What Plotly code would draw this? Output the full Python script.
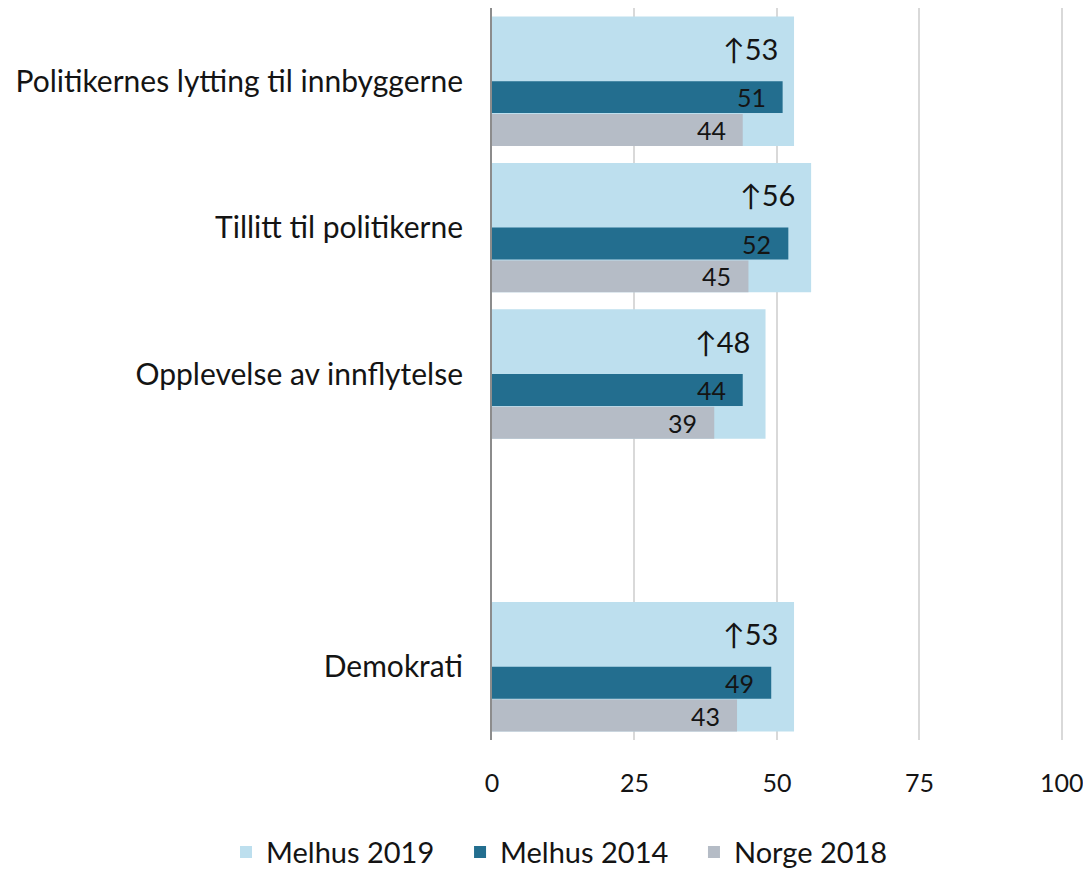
import plotly.graph_objects as go

categories = ["Politikernes lytting til innbyggerne", "Tillitt til politikerne",
              "Opplevelse av innflytelse", "", "Demokrati"]
melhus_2019 = [53, 56, 48, None, 53]
melhus_2014 = [51, 52, 44, None, 49]
norge_2018 = [44, 45, 39, None, 43]
series_names = ["Melhus 2019", "Melhus 2014", "Norge 2018"]
x_ticks = [0, 25, 50, 75, 100]

n = len(categories)
pos = [n - 1 - i for i in range(n)]

FONT = "Lato"
TXT = "#141414"
C_LIGHT = "#BDDFEE"
C_DARK = "#236E8F"
C_GRAY = "#B5BCC6"

fig = go.Figure()
fig.add_trace(go.Bar(y=pos, x=melhus_2019, orientation="h", name=series_names[0],
                     marker=dict(color=C_LIGHT, line=dict(width=0)),
                     width=0.884, offset=-0.442, legend="legend", showlegend=True))
fig.add_trace(go.Bar(y=pos, x=melhus_2014, orientation="h", name=series_names[1],
                     marker=dict(color=C_DARK, line=dict(width=0)),
                     width=0.218, offset=-0.218, legend="legend2", showlegend=True))
fig.add_trace(go.Bar(y=pos, x=norge_2018, orientation="h", name=series_names[2],
                     marker=dict(color=C_GRAY, line=dict(width=0)),
                     width=0.218, offset=-0.442, legend="legend3", showlegend=True))

annotations = []
for p, a, b, c in zip(pos, melhus_2019, melhus_2014, norge_2018):
    if a is None:
        continue
    annotations.append(dict(x=a, y=p + 0.225, text=f"↑{a}", showarrow=False,
                            xanchor="right", yanchor="middle", xshift=-14,
                            font=dict(family=FONT, size=29, color=TXT)))
    annotations.append(dict(x=b, y=p - 0.109, text=str(b), showarrow=False,
                            xanchor="right", yanchor="middle", xshift=-15,
                            font=dict(family=FONT, size=25, color=TXT)))
    annotations.append(dict(x=c, y=p - 0.333, text=str(c), showarrow=False,
                            xanchor="right", yanchor="middle", xshift=-15,
                            font=dict(family=FONT, size=25, color=TXT)))

tickvals = [p for p, cat in zip(pos, categories) if cat]
ticktext = [cat for cat in categories if cat]


def legend_box(xfrac):
    return dict(orientation="h", xref="container", yref="container",
                x=xfrac, xanchor="left", y=0.0197, yanchor="middle",
                font=dict(family=FONT, size=29, color=TXT),
                itemwidth=30, bgcolor="rgba(0,0,0,0)")


fig.update_layout(
    width=1083, height=861,
    barmode="overlay",
    showlegend=True,
    plot_bgcolor="white", paper_bgcolor="white",
    margin=dict(l=484, r=28, t=0, b=129),
    font=dict(family=FONT, size=25, color=TXT),
    annotations=annotations,
    legend=legend_box(0.2013),
    legend2=legend_box(0.4174),
    legend3=legend_box(0.6334),
    xaxis=dict(range=[0, 100.2], tickvals=x_ticks, showgrid=True, gridcolor="#D9D9D9",
               gridwidth=1.5, zeroline=False, showline=False, ticks="",
               ticklabelstandoff=26, tickfont=dict(family=FONT, size=25, color=TXT)),
    yaxis=dict(range=[-0.5, n - 0.5], tickvals=tickvals, ticktext=ticktext,
               showgrid=False, zeroline=False, showline=True, linecolor="#8C8C8C",
               linewidth=2, ticks="", ticklabelstandoff=21,
               tickfont=dict(family=FONT, size=30, color=TXT)),
)

fig.write_html("out.html")
